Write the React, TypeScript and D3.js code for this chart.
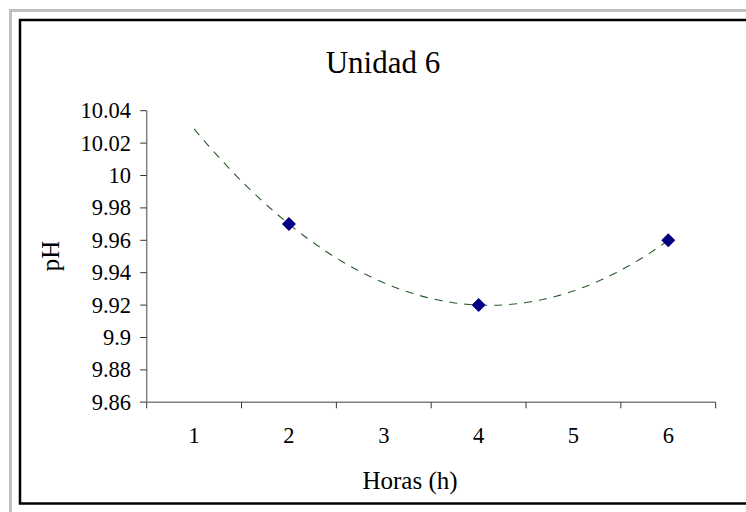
import React from "react";
import * as d3 from "d3";

// Sampling hours and measured pH for unit 6
const hours = [1, 2, 3, 4, 5, 6];
const sampleHours = [2, 4, 6];
const phValues = [9.97, 9.92, 9.96];
const yTicks = [9.86, 9.88, 9.9, 9.92, 9.94, 9.96, 9.98, 10, 10.02, 10.04];

const title = "Unidad 6";
const xTitle = "Horas (h)";
const yTitle = "pH";

const W = 746;
const H = 512;
const plot = { left: 146.7, right: 715.7, top: 110.7, bottom: 402.3 };

// Second-order polynomial trend fitted to the samples (least squares)
function fitQuadratic(xs: number[], ys: number[]) {
  const n = xs.length;
  let s0 = n, s1 = 0, s2 = 0, s3 = 0, s4 = 0, t0 = 0, t1 = 0, t2 = 0;
  for (let i = 0; i < n; i++) {
    const x = xs[i], y = ys[i];
    s1 += x; s2 += x * x; s3 += x ** 3; s4 += x ** 4;
    t0 += y; t1 += x * y; t2 += x * x * y;
  }
  const M = [
    [s4, s3, s2, t2],
    [s3, s2, s1, t1],
    [s2, s1, s0, t0],
  ];
  for (let c = 0; c < 3; c++) {
    for (let r = c + 1; r < 3; r++) {
      const f = M[r][c] / M[c][c];
      for (let k = c; k < 4; k++) M[r][k] -= f * M[c][k];
    }
  }
  const sol = [0, 0, 0];
  for (let r = 2; r >= 0; r--) {
    let v = M[r][3];
    for (let k = r + 1; k < 3; k++) v -= M[r][k] * sol[k];
    sol[r] = v / M[r][r];
  }
  const [a, b, c] = sol;
  return (x: number) => a * x * x + b * x + c;
}

export default function App() {
  const x = d3
    .scaleBand<number>()
    .domain(hours)
    .range([plot.left, plot.right]);
  const xc = d3
    .scaleLinear()
    .domain([1, 6])
    .range([plot.left + x.bandwidth() / 2, plot.right - x.bandwidth() / 2]);
  const y = d3.scaleLinear().domain([9.86, 10.04]).range([plot.bottom, plot.top]);

  const trend = fitQuadratic(sampleHours, phValues);
  const trendPts = d3.range(0, 101).map((i) => {
    const h = 1 + (5 * i) / 100;
    return [xc(h), y(trend(h))] as [number, number];
  });
  const trendPath = d3.line()(trendPts) || "";

  const xTickPos = hours.map((h) => x(h) as number).concat([plot.right]);
  const font = "Liberation Serif, Tinos, Times New Roman, DejaVu Serif, serif";
  const diamond = (cx: number, cy: number, r: number) =>
    `M${cx},${cy - r}L${cx + r},${cy}L${cx},${cy + r}L${cx - r},${cy}Z`;

  return (
    <div style={{ position: "absolute", left: 0, top: 0 }}>
      <svg width={W} height={H} style={{ display: "block", fontFamily: font }}>
        <rect x={0} y={0} width={W} height={H} fill="#ffffff" />
        <rect x={10.5} y={10.5} width={W + 20} height={H + 20} fill="none" stroke="#c0c0c0" strokeWidth={3} />
        <rect x={20} y={20} width={W + 20} height={483.5} fill="#ffffff" stroke="#000000" strokeWidth={2.5} />

        <text x={383} y={72.5} fontSize={31} textAnchor="middle" fill="#000">
          {title}
        </text>

        {/* y axis */}
        <line x1={plot.left} x2={plot.left} y1={plot.top} y2={plot.bottom} stroke="#808080" strokeWidth={1.5} />
        {yTicks.map((t) => (
          <g key={t}>
            <line x1={plot.left - 6.5} x2={plot.left} y1={y(t)} y2={y(t)} stroke="#333" strokeWidth={1} />
            <text x={131} y={y(t) + 7.5} fontSize={22.5} textAnchor="end" fill="#000">
              {d3.format("")(+t.toFixed(2))}
            </text>
          </g>
        ))}

        {/* x axis */}
        <line x1={plot.left - 6.5} x2={plot.right} y1={plot.bottom} y2={plot.bottom} stroke="#808080" strokeWidth={1.5} />
        {xTickPos.map((p, i) => (
          <line key={i} x1={p} x2={p} y1={plot.bottom} y2={plot.bottom + 6} stroke="#333" strokeWidth={1} />
        ))}
        {hours.map((h) => (
          <text key={h} x={xc(h)} y={443} fontSize={22.5} textAnchor="middle" fill="#000">
            {h}
          </text>
        ))}

        <text x={410} y={489} fontSize={25} textAnchor="middle" fill="#000">
          {xTitle}
        </text>
        <text
          transform={`translate(59,256) rotate(-90)`}
          fontSize={25}
          textAnchor="middle"
          fill="#000"
        >
          {yTitle}
        </text>

        {/* polynomial trend */}
        <path d={trendPath} fill="none" stroke="#2a5a2a" strokeWidth={1.1} strokeDasharray="8,7" />

        {/* samples */}
        {sampleHours.map((h, i) => (
          <path key={h} d={diamond(xc(h), y(phValues[i]), 7)} fill="#000080" />
        ))}
      </svg>
    </div>
  );
}
